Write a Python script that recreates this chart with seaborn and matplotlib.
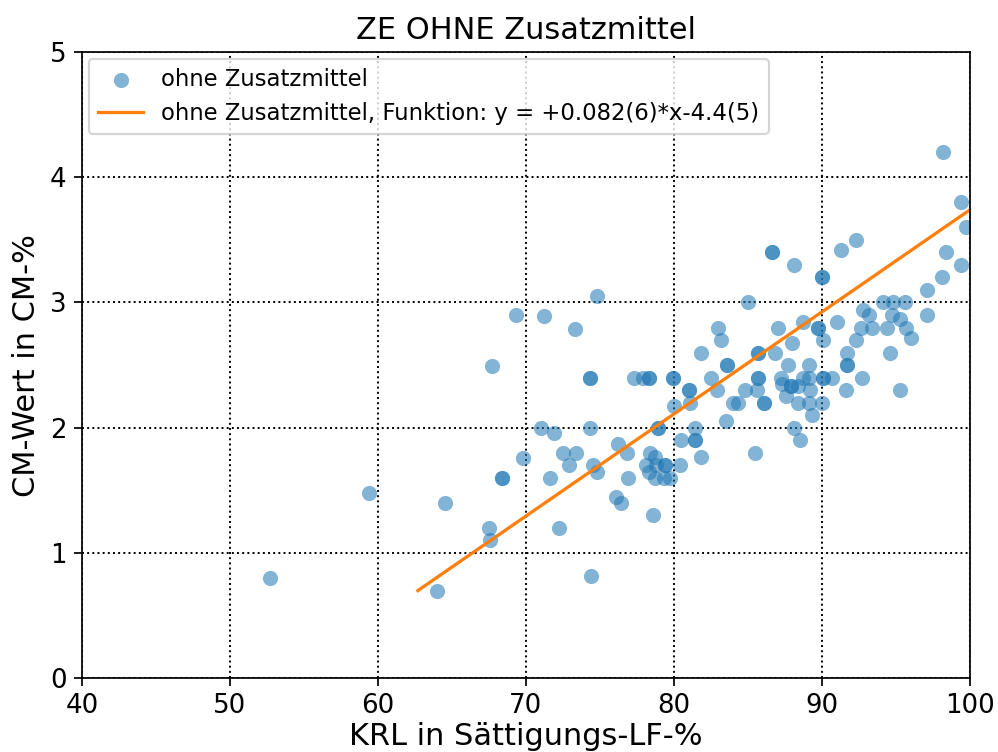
import numpy as np
import pandas as pd
import matplotlib
matplotlib.use("Agg")
import matplotlib.pyplot as plt
import seaborn as sns

# Messwerte: KRL (Sättigungs-LF-%) und CM-Wert (CM-%)
krl = [52.7, 59.4, 64.0, 64.5, 67.5, 67.6, 67.7, 68.4, 68.4, 69.3,
       69.8, 71.0, 71.2, 71.6, 71.9, 72.2, 72.5, 72.9, 73.3, 73.4,
       74.3, 74.3, 74.3, 74.4, 74.5, 74.8, 74.8, 76.1, 76.2, 76.4,
       76.8, 76.9, 77.3, 77.9, 78.3, 78.3, 78.1, 78.3, 78.4, 78.7,
       78.8, 79.4, 79.4, 78.7, 79.3, 79.7, 78.6, 78.9, 78.9, 79.9,
       79.9, 80.0, 80.4, 80.5, 81.0, 81.0, 81.1, 81.4, 81.4, 81.4,
       81.8, 81.8, 82.5, 82.9, 83.0, 83.2, 83.5, 83.6, 83.6, 84.0,
       84.3, 84.8, 85.0, 85.5, 85.6, 85.7, 85.7, 85.7, 85.7, 86.1,
       86.1, 86.6, 86.6, 86.8, 87.0, 87.2, 87.3, 87.6, 87.7, 87.9,
       87.9, 88.0, 88.1, 88.1, 88.4, 88.4, 88.5, 88.7, 88.7, 89.1,
       89.1, 89.2, 89.1, 89.3, 89.7, 89.7, 90.0, 90.0, 90.1, 90.0,
       90.1, 90.1, 90.7, 91.0, 91.3, 91.6, 91.7, 91.7, 91.7, 92.3,
       92.3, 92.6, 92.7, 92.8, 93.2, 93.4, 94.1, 94.4, 94.6, 94.7,
       94.8, 95.3, 95.3, 95.6, 95.7, 96.0, 97.1, 97.1, 98.1, 98.2,
       98.4, 99.4, 99.4, 99.7]
cm = [0.80, 1.48, 0.70, 1.40, 1.20, 1.10, 2.49, 1.60, 1.60, 2.90,
      1.76, 2.00, 2.89, 1.60, 1.96, 1.20, 1.80, 1.70, 2.79, 1.80,
      2.00, 2.40, 2.40, 0.82, 1.70, 1.65, 3.05, 1.45, 1.87, 1.40,
      1.80, 1.60, 2.40, 2.40, 2.40, 2.40, 1.70, 1.65, 1.80, 1.77,
      1.70, 1.70, 1.70, 1.60, 1.60, 1.60, 1.30, 2.00, 2.00, 2.40,
      2.40, 2.17, 1.70, 1.90, 2.30, 2.30, 2.20, 2.00, 1.90, 1.90,
      1.77, 2.60, 2.40, 2.30, 2.80, 2.70, 2.05, 2.50, 2.50, 2.20,
      2.20, 2.30, 3.00, 1.80, 2.30, 2.60, 2.60, 2.40, 2.40, 2.20,
      2.20, 3.40, 3.40, 2.60, 2.80, 2.40, 2.35, 2.25, 2.50, 2.33,
      2.33, 2.68, 3.30, 2.00, 2.33, 2.20, 1.90, 2.84, 2.40, 2.50,
      2.40, 2.30, 2.20, 2.10, 2.80, 2.80, 3.20, 3.20, 2.70, 2.20,
      2.40, 2.40, 2.40, 2.84, 3.42, 2.30, 2.60, 2.50, 2.50, 3.50,
      2.70, 2.80, 2.40, 2.94, 2.90, 2.80, 3.00, 2.80, 2.60, 2.90,
      3.00, 2.87, 2.30, 3.00, 2.80, 2.72, 3.10, 2.90, 3.20, 4.20,
      3.40, 3.80, 3.30, 3.60]

# lineare Regression (aus der Legende)
fit_slope = 0.0815
fit_intercept = -4.41
fit_range = [62.7, 100.0]

df = pd.DataFrame({"KRL": krl, "CM": cm})
fit_x = np.linspace(fit_range[0], fit_range[1], 50)
df_fit = pd.DataFrame({"KRL": fit_x, "CM": fit_slope * fit_x + fit_intercept})

fig, ax = plt.subplots(figsize=(998 / 156, 752 / 156), dpi=156)
fig.subplots_adjust(left=0.082, right=0.972, top=0.931, bottom=0.098)

sns.scatterplot(data=df, x="KRL", y="CM", ax=ax, color="C0", alpha=0.55,
                s=49, linewidth=0, label="ohne Zusatzmittel")
sns.lineplot(data=df_fit, x="KRL", y="CM", ax=ax, color="C1", linewidth=1.5,
             label="ohne Zusatzmittel, Funktion: y = +0.082(6)*x-4.4(5)")

ax.set_xlim(40, 100)
ax.set_ylim(0, 5)
ax.set_xticks([40, 50, 60, 70, 80, 90, 100])
ax.set_yticks([0, 1, 2, 3, 4, 5])
ax.tick_params(labelsize=12)
ax.grid(True, color="k", linestyle=":", linewidth=0.9)
ax.set_axisbelow(True)

ax.set_title("ZE OHNE Zusatzmittel", fontsize=14)
ax.set_xlabel("KRL in Sättigungs-LF-%", fontsize=14, labelpad=1)
ax.set_ylabel("CM-Wert in CM-%", fontsize=14)
ax.legend(loc="upper left", fontsize=10.5, borderaxespad=0.3)

fig.savefig("out.png", dpi=156)
